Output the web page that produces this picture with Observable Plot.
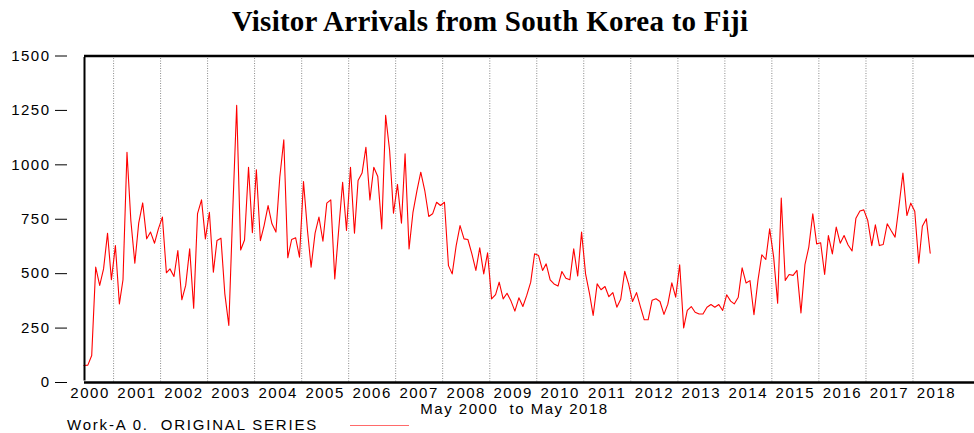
<!DOCTYPE html>
<html>
<head>
<meta charset="utf-8">
<script src="https://cdn.jsdelivr.net/npm/d3@7"></script>
<script src="https://cdn.jsdelivr.net/npm/@observablehq/plot@0.6"></script>
<style>
  html, body { margin: 0; padding: 0; background: #fff; }
  #wrap { width: 974px; height: 433px; overflow: hidden; position: relative; }
  #title { height: 40px; line-height: 40px; padding-top: 1px; box-sizing: border-box; text-align: center;
           font-family: "Liberation Serif", "Times New Roman", serif; font-weight: bold; font-size: 29px;
           letter-spacing: 0.25px; color: #000; padding-left: 6px; }
  .cap { font-family: "Liberation Sans", Arial, sans-serif; font-size: 15px; letter-spacing: 1.5px; color: #000;
         height: 16px; line-height: 16px; white-space: pre; }
  #sub { position: absolute; top: 401px; left: 0; width: 1029px; text-align: center; }
  #legend { position: absolute; top: 417px; left: 67px; letter-spacing: 1.8px; }
  #legend .swatch { display: inline-block; width: 59px; height: 0; border-top: 1px solid #ff6a6a; vertical-align: middle; margin-left: 32px; position: relative; top: -1px; }
  svg { display: block; }
</style>
</head>
<body>
<div id="wrap">
  <div id="title"></div>
  <div id="plot"></div>
  <div id="sub" class="cap"></div>
  <div id="legend" class="cap"></div>
</div>
<script>
// ---- Data ----
const chartTitle = "Visitor Arrivals from South Korea to Fiji";
const periodLabel = "May 2000  to May 2018";
const seriesLabel = "Work-A 0.  ORIGINAL SERIES";
const startYear = 2000;
const startMonthIndex = 4; // May (0-based)
// Monthly visitor arrivals, May 2000 .. May 2018
const arrivals = [
  78, 80, 124, 530, 446, 522, 686, 472,
  629, 361, 472, 1058, 744, 548, 732, 825, 660, 691, 640, 706,
  760, 504, 522, 487, 606, 380, 446, 614, 341, 776, 839, 660,
  782, 507, 652, 663, 407, 262, 780, 1273, 609, 655, 989, 688,
  977, 652, 721, 813, 729, 691, 943, 1115, 573, 657, 665, 576,
  923, 698, 530, 686, 760, 649, 824, 839, 476, 698, 920, 698,
  989, 686, 928, 962, 1081, 839, 989, 946, 706, 1227, 1066, 778,
  910, 732, 1051, 614, 780, 880, 966, 882, 763, 775, 828, 813,
  828, 537, 499, 629, 721, 660, 657, 591, 515, 619, 499, 596,
  384, 404, 461, 384, 410, 374, 328, 389, 349, 400, 461, 591,
  583, 515, 545, 472, 453, 443, 510, 479, 472, 614, 489, 691,
  499, 407, 308, 453, 426, 441, 394, 413, 346, 382, 511, 453,
  372, 413, 350, 288, 288, 378, 385, 372, 313, 360, 458, 392,
  541, 251, 331, 349, 323, 315, 315, 346, 358, 346, 358, 331,
  403, 374, 361, 392, 527, 457, 468, 311, 469, 587, 565, 706,
  576, 364, 847, 469, 496, 492, 515, 320, 541, 622, 775, 637,
  642, 496, 675, 591, 714, 640, 675, 632, 604, 755, 788, 793,
  744, 629, 724, 629, 634, 729, 698, 668, 813, 962, 767, 824,
  787, 548, 718, 752, 594
];
const yTicks = [0, 250, 500, 750, 1000, 1250, 1500];
const gridYears = d3.range(2001, 2019);   // dotted year separators (Jan 1)
const labelYears = d3.range(2000, 2019);  // year labels, centred on each year

// ---- Build table ----
const table = arrivals.map((v, i) => ({
  date: new Date(Date.UTC(startYear, startMonthIndex + i, 15)),
  value: v
}));
const xDomain = [new Date(Date.UTC(2000, 4, 20)), new Date(Date.UTC(2019, 3, 24))];
const gridDates = gridYears.map(y => new Date(Date.UTC(y, 0, 1)));
const labelDates = labelYears.map(y => new Date(Date.UTC(y, 6, 2)));

const font = "'Liberation Sans', Arial, sans-serif";

const chart = Plot.plot({
  width: 974,
  height: 361,
  marginTop: 15.5,
  marginBottom: 19,
  marginLeft: 84,
  marginRight: 0,
  style: { fontFamily: font, fontSize: "15px", letterSpacing: "1.5px", color: "#000", background: "#fff" },
  x: { type: "utc", domain: xDomain },
  y: { domain: [0, 1500] },
  marks: [
    Plot.ruleX(gridDates, { stroke: "#8a8a8a", strokeWidth: 1, strokeDasharray: "1,1.5" }),
    Plot.lineY(table, { x: "date", y: "value", stroke: "#ff0000", strokeWidth: 1.1 }),
    Plot.ruleY([0, 1500], { stroke: "#000", strokeWidth: 2.6 }),
    Plot.ruleX([xDomain[0]], { stroke: "#000", strokeWidth: 2, y1: 0, y2: 1500, insetTop: -1.5, insetBottom: -1.5 }),
    Plot.axisY({ ticks: yTicks, tickFormat: d => String(d), tickSize: 12, tickPadding: 5, dx: -17,
                 fontSize: 15, stroke: "#000", strokeWidth: 1, color: "#000", label: null }),
    Plot.axisX({ ticks: labelDates, tickFormat: d => String(d.getUTCFullYear()), tickSize: 0, tickPadding: 5,
                 fontSize: 15, color: "#000", label: null })
  ]
});

document.getElementById("title").textContent = chartTitle;
document.getElementById("plot").appendChild(chart);
document.getElementById("sub").textContent = periodLabel;
const lg = document.getElementById("legend");
lg.textContent = seriesLabel;
const sw = document.createElement("span");
sw.className = "swatch";
lg.appendChild(sw);
</script>
</body>
</html>
